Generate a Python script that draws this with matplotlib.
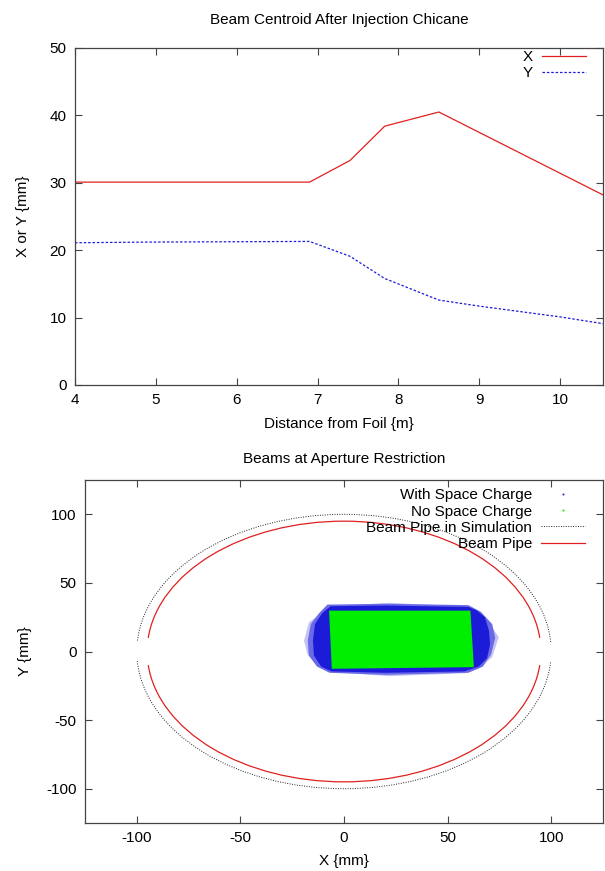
import numpy as np
import matplotlib.pyplot as plt
from matplotlib.patches import Arc, Polygon
from matplotlib.lines import Line2D

plt.rcParams['font.family'] = ['Liberation Sans', 'DejaVu Sans']
plt.rcParams['font.size'] = 11
plt.rcParams['axes.unicode_minus'] = False

# --- centroide do feixe depois do chicane ---
dist_x = [4.0, 6.9, 7.4, 7.83, 8.5, 10.53]
centroid_x = [30.1, 30.1, 33.3, 38.4, 40.5, 28.2]

dist_y = [4.0, 4.88, 6.9, 7.4, 7.83, 8.5, 9.0, 10.0, 10.53]
centroid_y = [21.1, 21.2, 21.3, 19.1, 15.8, 12.6, 11.7, 10.1, 9.1]

# --- tubo do feixe (raio mm, corte em graus perto de y=0) ---
pipe_sim_radius = 100
pipe_sim_gap = 4
pipe_radius = 95
pipe_gap = 6

# --- contorno das nuvens de particulas (mm) ---
# com carga espacial: franja externa, meio e nucleo denso
sc_outer_x = [-19.3, -16.9, -10.5, -5.6, 21.7, 60.2, 68.3, 74.7, 71.5, 65.0, 58.6, 21.7, -5.6, -12.0, -17.7]
sc_outer_y = [8.0, 21.3, 28.6, 32.7, 35.5, 32.7, 25.0, 10.4, -4.1, -12.6, -15.8, -18.0, -15.0, -10.2, -1.7]
sc_mid_x = [-8.0, 20.0, 60.0, 66.0, 71.5, 73.0, 71.0, 67.0, 60.0, 20.0, -7.0, -13.0, -17.0, -17.5, -16.0, -12.0]
sc_mid_y = [34.2, 34.8, 33.8, 29.0, 20.0, 10.0, -2.0, -11.0, -15.5, -17.0, -15.5, -11.0, -3.0, 8.0, 20.0, 28.0]
sc_inner_x = [-6.5, 20.0, 60.0, 64.0, 68.0, 70.0, 70.5, 69.0, 65.0, 58.0, 20.0, -6.0, -11.0, -14.5, -15.0, -14.0, -10.5]
sc_inner_y = [33.0, 33.5, 32.5, 30.0, 25.0, 15.0, 5.0, -5.0, -11.0, -14.5, -15.5, -14.5, -11.0, -3.0, 8.0, 20.0, 28.0]
# sem carga espacial
nosc_x = [-7.2, 61.0, 62.7, -5.9]
nosc_y = [29.8, 29.8, -11.4, -12.6]

red = '#e02020'
blue = '#1c1cd8'
green = '#00ee00'
frame = '#444444'

fig = plt.figure(figsize=(6.05, 8.71), dpi=100)
ax1 = fig.add_axes([0.124, 0.558, 0.8727, 0.3869])
ax2 = fig.add_axes([0.1405, 0.0551, 0.8562, 0.3938])

for ax in (ax1, ax2):
    ax.tick_params(direction='in', top=True, right=True, length=5, width=0.8,
                   color=frame, pad=6, labelsize=11)
    for s in ax.spines.values():
        s.set_color(frame)
        s.set_linewidth(0.9)

# grafico de cima
ax1.plot(dist_x, centroid_x, color=red, lw=0.9)
ax1.plot(dist_y, centroid_y, color=blue, lw=0.9, linestyle=(0, (2, 1.5)))
ax1.set_xlim(4, 10.53)
ax1.set_ylim(0, 50)
ax1.set_xticks(range(4, 11))
ax1.set_yticks(range(0, 51, 10))
ax1.set_title('Beam Centroid After Injection Chicane', pad=17, fontsize=11)
ax1.set_xlabel('Distance from Foil {m}', labelpad=7)
ax1.set_ylabel('X or Y {mm}', labelpad=14)
h1 = [Line2D([], [], color=red, lw=0.9),
      Line2D([], [], color=blue, lw=0.9, linestyle=(0, (2, 1.5)))]
ax1.legend(h1, ['X', 'Y'], loc='upper right', bbox_to_anchor=(0.968, 0.994),
           frameon=False, markerfirst=False, borderpad=0, borderaxespad=0,
           handlelength=2.9, handletextpad=0.6, labelspacing=0.15, fontsize=11)

# grafico de baixo
ax2.add_patch(Polygon(np.column_stack([sc_outer_x, sc_outer_y]), closed=True,
                      facecolor='#c4c4f4', edgecolor='none'))
ax2.add_patch(Polygon(np.column_stack([sc_mid_x, sc_mid_y]), closed=True,
                      facecolor='#6a6ae6', edgecolor='none'))
ax2.add_patch(Polygon(np.column_stack([sc_inner_x, sc_inner_y]), closed=True,
                      facecolor=blue, edgecolor='none'))
ax2.add_patch(Polygon(np.column_stack([nosc_x, nosc_y]), closed=True,
                      facecolor=green, edgecolor='none'))

d = 2 * pipe_sim_radius
for t1, t2 in [(pipe_sim_gap, 180 - pipe_sim_gap), (180 + pipe_sim_gap, 360 - pipe_sim_gap)]:
    ax2.add_patch(Arc((0, 0), d, d, theta1=t1, theta2=t2, color='#222222', lw=0.7,
                      linestyle=(0, (1, 1.5))))
d = 2 * pipe_radius
for t1, t2 in [(pipe_gap, 180 - pipe_gap), (180 + pipe_gap, 360 - pipe_gap)]:
    ax2.add_patch(Arc((0, 0), d, d, theta1=t1, theta2=t2, color=red, lw=0.9))

ax2.set_xlim(-125, 125)
ax2.set_ylim(-125, 125)
ax2.set_xticks(range(-100, 101, 50))
ax2.set_yticks(range(-100, 101, 50))
ax2.set_title('Beams at Aperture Restriction', pad=12, fontsize=11)
ax2.set_xlabel('X {mm}', labelpad=6)
ax2.set_ylabel('Y {mm}', labelpad=10)
h2 = [Line2D([], [], color=blue, marker='.', markersize=1, linestyle='none'),
      Line2D([], [], color=green, marker='.', markersize=1, linestyle='none'),
      Line2D([], [], color='#222222', lw=0.7, linestyle=(0, (1, 1.5))),
      Line2D([], [], color=red, lw=0.9)]
ax2.legend(h2, ['With Space Charge', 'No Space Charge', 'Beam Pipe in Simulation', 'Beam Pipe'],
           loc='upper right', bbox_to_anchor=(0.966, 0.976),
           frameon=False, markerfirst=False, borderpad=0, borderaxespad=0,
           handlelength=2.9, handletextpad=0.6, labelspacing=0.15, fontsize=11)

fig.savefig('out.png', dpi=100)
